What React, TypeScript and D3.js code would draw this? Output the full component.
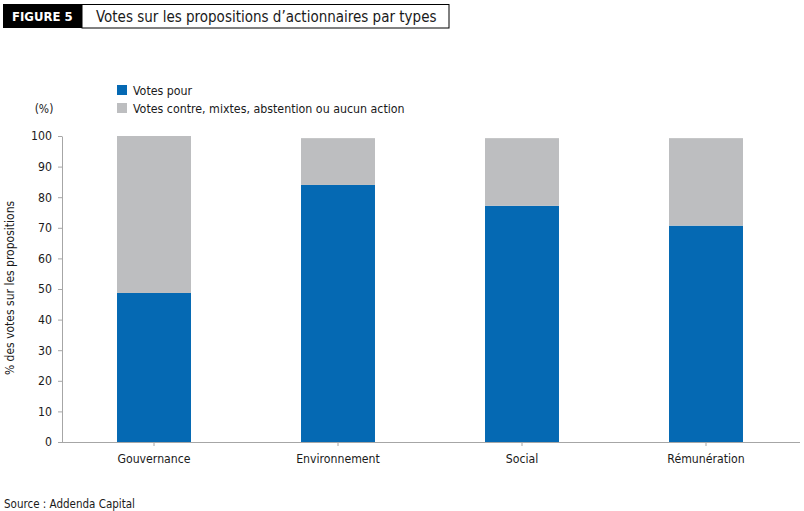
import * as d3 from "d3";
import { useEffect, useRef } from "react";

const categories = ["Gouvernance", "Environnement", "Social", "Rémunération"];
const votesPour = [48.7, 84.0, 77.2, 70.7];
const votesContre = [51.3, 15.3, 22.1, 28.6];
const seriesNames = ["Votes pour", "Votes contre, mixtes, abstention ou aucun action"];
const seriesColors = ["#0569b3", "#bdbec0"];
const yTicks = [0, 10, 20, 30, 40, 50, 60, 70, 80, 90, 100];

const FONT = "'DejaVu Sans Condensed', 'DejaVu Sans', sans-serif";

export default function App() {
  const svgRef = useRef<SVGSVGElement | null>(null);

  useEffect(() => {
    if (!svgRef.current) return;
    const width = 804;
    const height = 511;
    const margin = { top: 136, right: 6, bottom: 69, left: 62 };

    const svg = d3.select(svgRef.current);
    svg.selectAll("*").remove();
    svg.attr("width", width).attr("height", height).attr("viewBox", `0 0 ${width} ${height}`);
    svg.style("font-family", FONT);

    // title block
    svg.append("rect").attr("x", 3).attr("y", 4).attr("width", 79).attr("height", 24).attr("fill", "#000");
    svg
      .append("text")
      .attr("x", 12)
      .attr("y", 21)
      .attr("fill", "#fff")
      .attr("font-size", 13)
      .attr("font-weight", "bold")
      .text("FIGURE 5");
    svg
      .append("rect")
      .attr("x", 82)
      .attr("y", 4.5)
      .attr("width", 367)
      .attr("height", 23.5)
      .attr("fill", "#fff")
      .attr("stroke", "#000")
      .attr("stroke-width", 1);
    svg
      .append("text")
      .attr("x", 96)
      .attr("y", 21.5)
      .attr("fill", "#1a1a1a")
      .attr("font-size", 15)
      .text("Votes sur les propositions d\u2019actionnaires par types");

    const rows = categories.map((c, i) => ({ cat: c, pour: votesPour[i], contre: votesContre[i] }));
    const stack = d3.stack<any>().keys(["pour", "contre"])(rows);

    const x = d3
      .scaleBand<string>()
      .domain(categories)
      .range([margin.left, width - margin.right])
      .paddingInner(0.598)
      .paddingOuter(0.299);

    const y = d3
      .scaleLinear()
      .domain([0, 100])
      .range([height - margin.bottom, margin.top]);

    stack.forEach((layer, li) => {
      svg
        .append("g")
        .attr("fill", seriesColors[li])
        .selectAll("rect")
        .data(layer)
        .join("rect")
        .attr("x", (d: any) => x(d.data.cat)!)
        .attr("width", x.bandwidth())
        .attr("y", (d: any) => y(d[1]))
        .attr("height", (d: any) => y(d[0]) - y(d[1]));
    });

    const yAxis = d3
      .axisLeft(y)
      .tickValues(yTicks)
      .tickSize(4)
      .tickPadding(6)
      .tickSizeOuter(0);
    const yG = svg
      .append("g")
      .attr("transform", `translate(${margin.left},0)`)
      .call(yAxis as any);

    const xAxis = d3.axisBottom(x).tickSize(4).tickPadding(8).tickSizeOuter(0);
    const xG = svg
      .append("g")
      .attr("transform", `translate(0,${height - margin.bottom})`)
      .call(xAxis as any);
    xG.select(".domain").attr("d", `M${margin.left},0.5H${width - 4}`);

    [xG, yG].forEach((g) => {
      g.selectAll("path").attr("stroke", "#a6a6a6");
      g.selectAll("line").attr("stroke", "#a6a6a6");
      g.selectAll("text").attr("fill", "#1a1a1a").attr("font-size", 12.2).attr("font-family", FONT);
    });

    // legend
    const legend = svg.append("g");
    seriesNames.forEach((name, i) => {
      const ly = 85 + i * 18;
      legend.append("rect").attr("x", 117).attr("y", ly).attr("width", 10).attr("height", 10).attr("fill", seriesColors[i]);
      legend
        .append("text")
        .attr("x", 133)
        .attr("y", ly + 9.5)
        .attr("fill", "#1a1a1a")
        .attr("font-size", 12.3)
        .text(name);
    });

    svg
      .append("text")
      .attr("x", 44)
      .attr("y", 113)
      .attr("text-anchor", "middle")
      .attr("fill", "#1a1a1a")
      .attr("font-size", 12)
      .text("(%)");

    svg
      .append("text")
      .attr("transform", `translate(14,${288}) rotate(-90)`)
      .attr("text-anchor", "middle")
      .attr("fill", "#1a1a1a")
      .attr("font-size", 12)
      .text("% des votes sur les propositions");

    svg
      .append("text")
      .attr("x", 4)
      .attr("y", 508)
      .attr("fill", "#1a1a1a")
      .attr("font-size", 11.5)
      .text("Source\u00a0: Addenda Capital");
  }, []);

  return <svg ref={svgRef} style={{ position: "absolute", left: 0, top: 0, background: "#fff" }} />;
}
